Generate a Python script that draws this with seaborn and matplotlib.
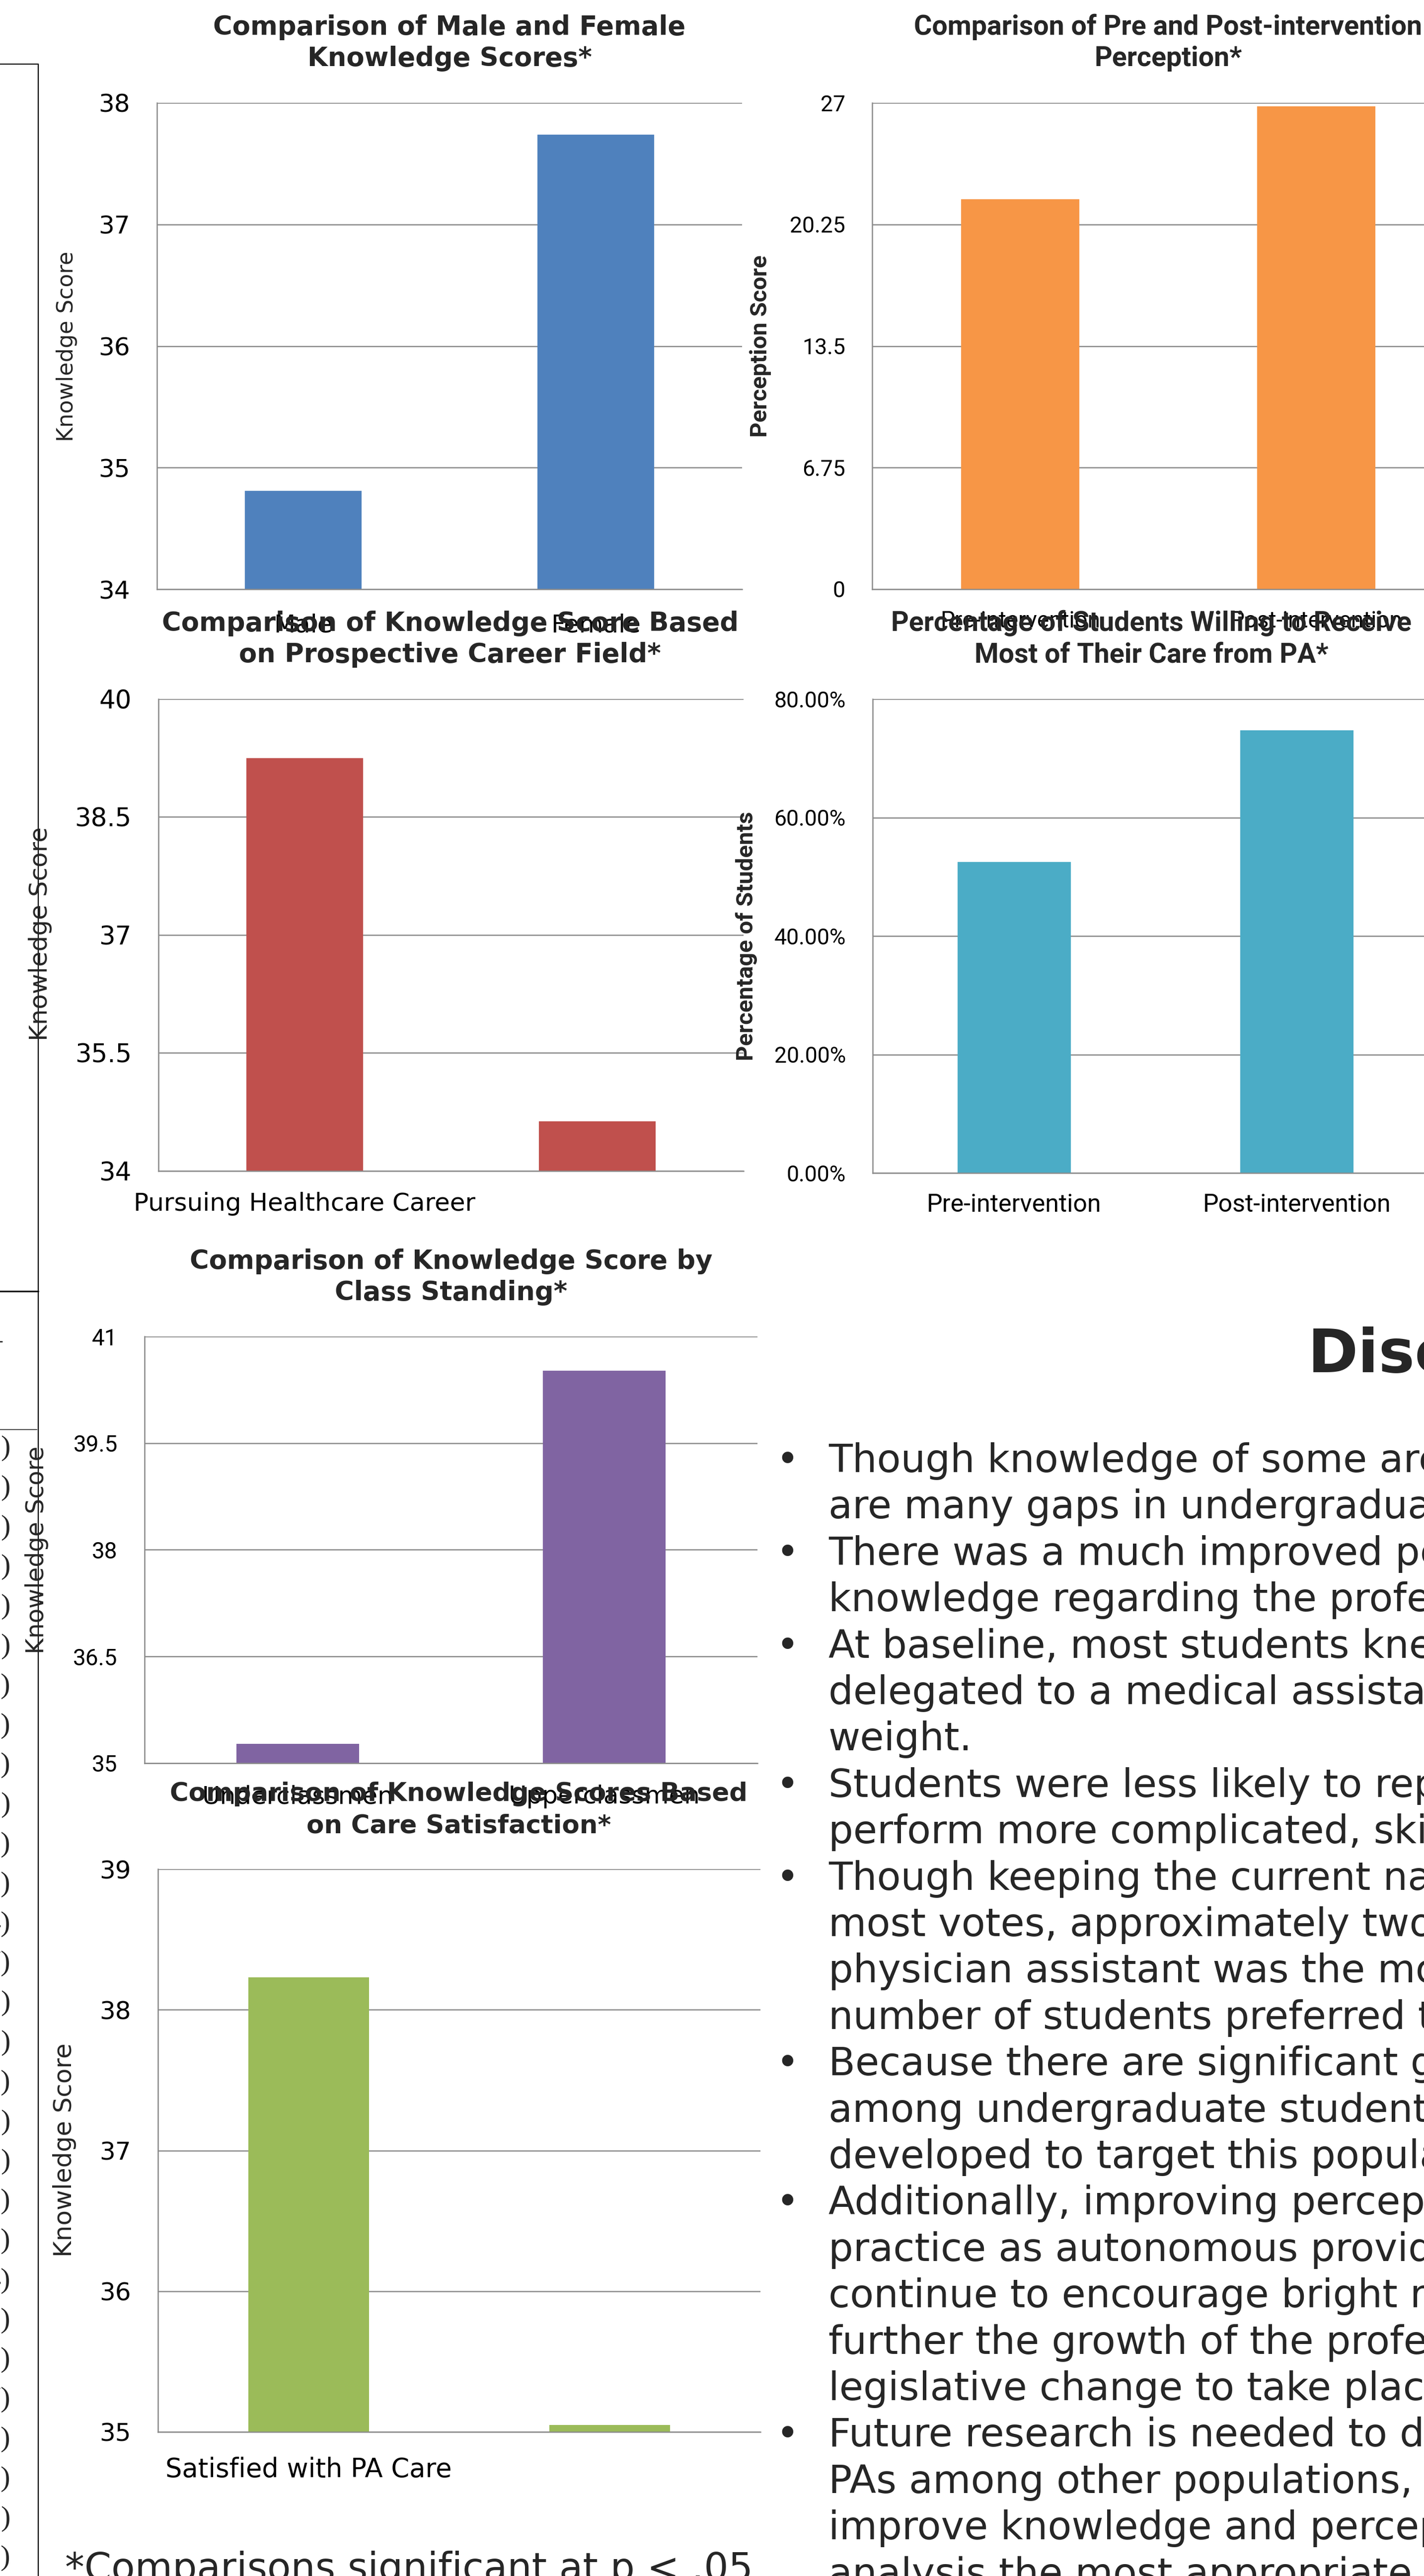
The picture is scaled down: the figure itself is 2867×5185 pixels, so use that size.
import matplotlib
matplotlib.use("Agg")
import matplotlib.pyplot as plt
from matplotlib import font_manager
from matplotlib.lines import Line2D
import seaborn as sns

# ---------------- data ----------------
gender_labels = ["Male", "Female"]
gender_scores = [34.81, 37.74]

perception_labels = ["Pre-intervention", "Post-intervention"]
perception_scores = [21.65, 26.80]

career_labels = ["Pursuing Healthcare Career", ""]
career_scores = [39.25, 34.63]

willing_labels = ["Pre-intervention", "Post-intervention"]
willing_pct = [52.5, 74.7]

class_labels = ["Underclassmen", "Upperclassmen"]
class_scores = [35.27, 40.52]

satisfaction_labels = ["Satisfied with PA Care", ""]
satisfaction_scores = [38.23, 35.05]

gender_ticks = [34, 35, 36, 37, 38]
perception_ticks = [0, 6.75, 13.5, 20.25, 27]
career_ticks = [34, 35.5, 37, 38.5, 40]
willing_ticks = [0, 20, 40, 60, 80]
class_ticks = [35, 36.5, 38, 39.5, 41]
satisfaction_ticks = [35, 36, 37, 38, 39]

titles = {
    "gender": ["Comparison of Male and Female", "Knowledge Scores*"],
    "perception": ["Comparison of Pre and Post-intervention", "Perception*"],
    "career": ["Comparison of Knowledge Score Based", "on Prospective Career Field*"],
    "willing": ["Percentage of Students Willing to Receive", "Most of Their Care from PA*"],
    "class": ["Comparison of Knowledge Score by", "Class Standing*"],
    "satisfaction": ["Comparison of Knowledge Scores Based", "on Care Satisfaction*"],
}

discussion_heading = "Discussion"
discussion_lines = [
    (True, "Though knowledge of some areas"),
    (False, "are many gaps in undergraduate"),
    (True, "There was a much improved perception"),
    (False, "knowledge regarding the profession"),
    (True, "At baseline, most students knew"),
    (False, "delegated to a medical assistant"),
    (False, "weight."),
    (True, "Students were less likely to report"),
    (False, "perform more complicated, skilled"),
    (True, "Though keeping the current name"),
    (False, "most votes, approximately two"),
    (False, "physician assistant was the most"),
    (False, "number of students preferred the"),
    (True, "Because there are significant gaps"),
    (False, "among undergraduate students"),
    (False, "developed to target this population"),
    (True, "Additionally, improving perception"),
    (False, "practice as autonomous providers"),
    (False, "continue to encourage bright minds"),
    (False, "further the growth of the profession"),
    (False, "legislative change to take place"),
    (True, "Future research is needed to determine"),
    (False, "PAs among other populations, the"),
    (False, "improve knowledge and perception"),
    (False, "analysis the most appropriate"),
]

footnote = "*Comparisons significant at p < .05"

# right-hand ends of the table rows in the neighbouring column
table_row_ends = [")", ")", ")", ")", ")", ")", "9)", "5)", "9)",
                  ")", "9)", "9)", "4)", "7)", ")", ")", "5)", ")", ")",
                  "3)", "9)", "4)", "3)", "9)", "7)", "9)", "3)", ")", "5)"]

# ---------------- style ----------------
sns.set_style("white")
plt.rcParams["font.family"] = ["DejaVu Sans"]

_installed = {f.name for f in font_manager.fontManager.ttflist}
ALT = next((n for n in ["Roboto", "Lato", "Open Sans"] if n in _installed), "DejaVu Sans")
SANS = "DejaVu Sans"
SERIF = "Liberation Serif" if "Liberation Serif" in _installed else "DejaVu Serif"

GRID = "#8a8a8a"
W, H = 2867, 5185
fig = plt.figure(figsize=(W / 100, H / 100), dpi=100)
fig.patch.set_facecolor("white")


def fx(x):
    return x / W


def fy(y):
    return 1 - y / H


def bar_chart(box, labels, values, color, ylim, yticks, fmt,
              tick_font, tick_size, xlab_font, xlab_size, xlab_pad):
    left, top, right, bottom = box
    ax = fig.add_axes([left / W, 1 - bottom / H, (right - left) / W, (bottom - top) / H])
    sns.barplot(x=labels, y=values, order=labels, color=color, width=0.4,
                saturation=1, linewidth=0, errorbar=None, ax=ax)
    ax.set_xlim(-0.5, len(labels) - 0.5)
    ax.set_ylim(*ylim)
    ax.set_yticks(yticks)
    ax.set_yticklabels([fmt(v) for v in yticks], family=tick_font, fontsize=tick_size)
    ax.set_xticks(range(len(labels)))
    ax.set_xticklabels(labels, family=xlab_font, fontsize=xlab_size)
    ax.set_xticks([i - 0.5 for i in range(len(labels) + 1)], minor=True)
    ax.tick_params(axis="x", which="major", length=0, pad=xlab_pad, colors="black")
    ax.tick_params(axis="x", which="minor", length=6, width=1.4, color=GRID, direction="out")
    ax.tick_params(axis="y", which="major", length=6, width=1.4, color=GRID,
                   direction="out", pad=33, labelcolor="black")
    ax.yaxis.grid(True, color=GRID, linewidth=1.8)
    ax.xaxis.grid(False)
    ax.set_axisbelow(True)
    for s in ("top", "right"):
        ax.spines[s].set_visible(False)
    for s in ("left", "bottom"):
        ax.spines[s].set_color(GRID)
        ax.spines[s].set_linewidth(1.8)
    ax.set_xlabel("")
    ax.set_ylabel("")
    return ax


def title(lines, cx, baseline, font, size, step=63):
    for i, line in enumerate(lines):
        fig.text(fx(cx), fy(baseline + i * step), line, ha="center", va="baseline",
                 family=font, fontsize=size, fontweight="bold")


def ylabel(text, x, y, font, size, weight="normal"):
    fig.text(fx(x), fy(y), text, rotation=90, ha="center", va="center",
             family=font, fontsize=size, fontweight=weight)


fmt_g = lambda v: f"{v:g}"
fmt_pct = lambda v: f"{v:.2f}%"

# 1. gender
bar_chart((316, 207, 1494, 1186), gender_labels, gender_scores, "#4F81BD",
          (34, 38), gender_ticks, fmt_g, SANS, 36, SANS, 36, 35)
title(titles["gender"], 905, 70, SANS, 38)
ylabel("Knowledge Score", 134, 697, SANS, 32)

# 2. perception
bar_chart((1756, 207, 2948, 1186), perception_labels, perception_scores, "#F79646",
          (0, 27), perception_ticks, fmt_g, ALT, 32, ALT, 33, 30)
title(titles["perception"], 2352, 70, ALT, 40)
ylabel("Perception Score", 1531, 697, ALT, 34, "bold")

# 3. career field
bar_chart((319, 1407, 1497, 2357), career_labels, career_scores, "#C0504D",
          (34, 40), career_ticks, fmt_g, SANS, 37, SANS, 36, 30)
title(titles["career"], 906, 1270, SANS, 38)
ylabel("Knowledge Score", 81, 1880, SANS, 36)

# 4. willingness
bar_chart((1757, 1407, 2896, 2361), willing_labels, willing_pct, "#4BACC6",
          (0, 80), willing_ticks, fmt_pct, ALT, 32, ALT, 36, 29)
title(titles["willing"], 2318, 1270, ALT, 40)
ylabel("Percentage of Students", 1503, 1884, ALT, 34, "bold")

# 5. class standing
bar_chart((291, 2690, 1525, 3549), class_labels, class_scores, "#8064A2",
          (35, 41), class_ticks, fmt_g, ALT, 33, SANS, 36, 31)
title(titles["class"], 908, 2554, SANS, 38)
ylabel("Knowledge Score", 74, 3120, SANS, 35)

# 6. care satisfaction
bar_chart((318, 3762, 1531, 4895), satisfaction_labels, satisfaction_scores, "#9BBB59",
          (35, 39), satisfaction_ticks, fmt_g, SANS, 36, SANS, 38, 36)
title(titles["satisfaction"], 924, 3625, SANS, 37, step=64)
ylabel("Knowledge Score", 130, 4328, SANS, 36)

fig.text(fx(131), fy(5194), footnote, ha="left", va="baseline", family=SANS, fontsize=56)

# ---------------- discussion column ----------------
fig.text(fx(2633), fy(2762), discussion_heading, ha="left", va="baseline",
         family=SANS, fontsize=88, fontweight="bold")
for i, (bullet, line) in enumerate(discussion_lines):
    base = 2963 + i * 93.4
    if bullet:
        fig.text(fx(1585), fy(base), "\u2022", ha="center", va="baseline",
                 family=SANS, fontsize=56)
    fig.text(fx(1668), fy(base), line, ha="left", va="baseline", family=SANS, fontsize=56.5)

# ---------------- left column frame ----------------
frame = dict(color="black", transform=fig.transFigure)
fig.add_artist(Line2D([fx(77), fx(77)], [fy(129), fy(H + 5)], linewidth=1.6, **frame))
fig.add_artist(Line2D([fx(-5), fx(77)], [fy(129), fy(129)], linewidth=1.4, **frame))
fig.add_artist(Line2D([fx(-5), fx(77)], [fy(2599), fy(2599)], linewidth=2.2, **frame))
fig.add_artist(Line2D([fx(-5), fx(74)], [fy(2877), fy(2877)], linewidth=1.0, **frame))
fig.text(fx(0), fy(2700), "-", ha="center", va="center", family=SANS, fontsize=24)

for k, s in enumerate(table_row_ends):
    fig.text(fx(21), fy(2915 + k * 79.8), s, ha="right", va="center",
             family=SERIF, fontsize=42)

fig.savefig("out.png", dpi=100, facecolor="white")
